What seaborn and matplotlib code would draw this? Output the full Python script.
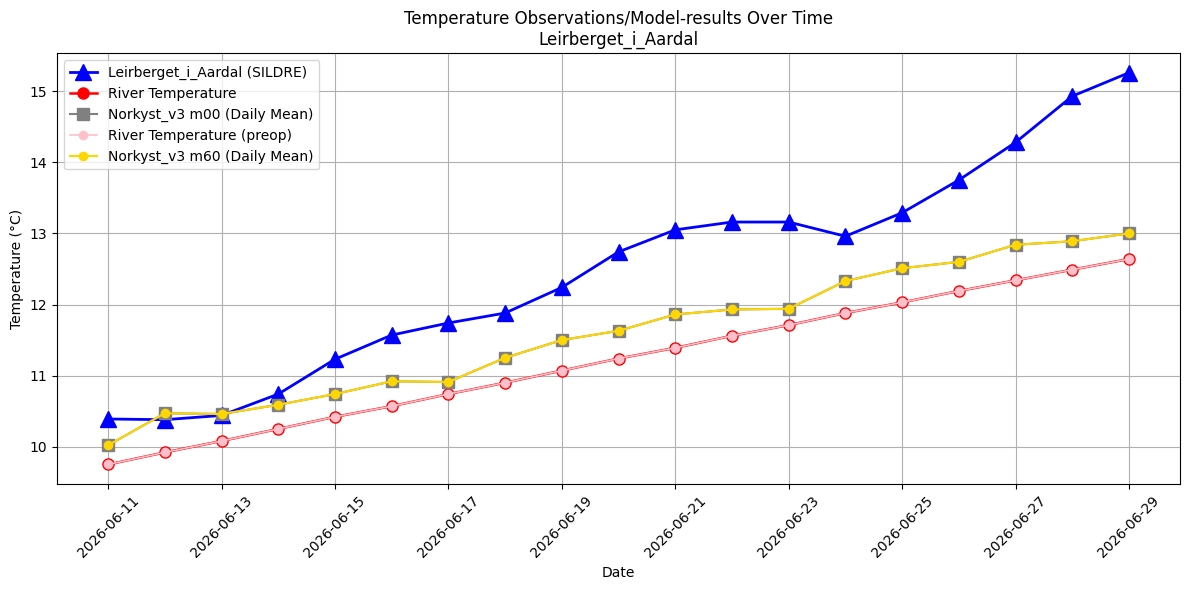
import matplotlib
matplotlib.use("Agg")
import matplotlib.pyplot as plt
import numpy as np
import pandas as pd
import seaborn as sns

# data
dates = pd.date_range("2026-06-11", "2026-06-29", freq="D")
sildre = [10.39, 10.38, 10.44, 10.74, 11.23, 11.57, 11.74, 11.88, 12.24, 12.74,
          13.05, 13.16, 13.16, 12.96, 13.29, 13.75, 14.28, 14.93, 15.26]
river_temp = [9.75, 9.92, 10.08, 10.25, 10.42, 10.57, 10.74, 10.90, 11.07, 11.24,
              11.39, 11.56, 11.71, 11.88, 12.03, 12.19, 12.34, 12.49, 12.64]
river_preop = list(river_temp)
norkyst_m00 = [10.02, 10.47, 10.46, 10.59, 10.74, 10.92, 10.91, 11.25, 11.50, 11.63,
               11.86, 11.93, 11.94, 12.33, 12.51, 12.60, 12.84, 12.89, 13.00]
norkyst_m60 = list(norkyst_m00)

station = "Leirberget_i_Aardal"

fig, ax = plt.subplots(figsize=(12, 6), dpi=100)

sns.lineplot(x=dates, y=sildre, ax=ax, color="blue", marker="^", markersize=12,
             linewidth=2, markeredgecolor="blue", markeredgewidth=1, legend=False)
sns.lineplot(x=dates, y=river_temp, ax=ax, color="red", marker="o", markersize=8,
             linewidth=1.8, markeredgecolor="red", markeredgewidth=1, legend=False)
sns.lineplot(x=dates, y=norkyst_m00, ax=ax, color="grey", marker="s", markersize=9,
             linewidth=1.5, markeredgecolor="grey", markeredgewidth=1, legend=False)
sns.lineplot(x=dates, y=river_preop, ax=ax, color="pink", marker="o", markersize=7,
             linewidth=1.2, markeredgewidth=0, legend=False)
sns.lineplot(x=dates, y=norkyst_m60, ax=ax, color="gold", marker="o", markersize=7,
             linewidth=1.5, markeredgewidth=0, legend=False)

labels = [f"{station} (SILDRE)", "River Temperature", "Norkyst_v3 m00 (Daily Mean)",
          "River Temperature (preop)", "Norkyst_v3 m60 (Daily Mean)"]
ax.legend(handles=ax.get_lines()[:5], labels=labels, loc="upper left")

ax.set_title(f"Temperature Observations/Model-results Over Time\n{station}")
ax.set_xlabel("Date")
ax.set_ylabel("Temperature (°C)")
ax.set_xticks(dates[::2])
ax.set_xticklabels([d.strftime("%Y-%m-%d") for d in dates[::2]])
plt.xticks(rotation=45)
ax.grid(True)
plt.tight_layout()
plt.savefig("out.png", bbox_inches="tight")
